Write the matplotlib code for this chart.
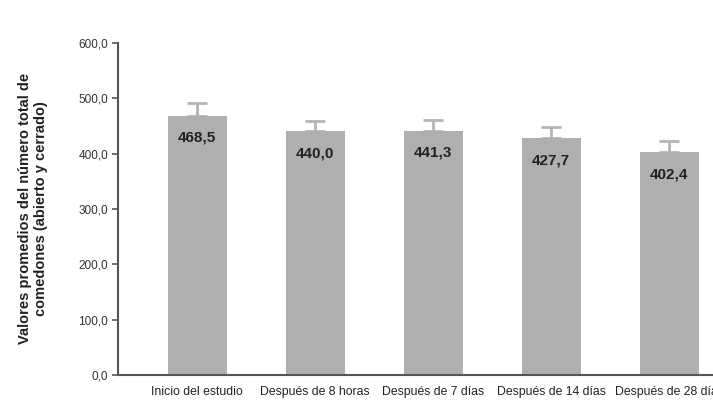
import numpy as np
import matplotlib.pyplot as plt

plt.rcParams['font.family'] = ['Liberation Sans', 'DejaVu Sans']

categorias = ["Inicio del estudio", "Después de 8 horas", "Después de 7 días",
              "Después de 14 días", "Después de 28 días"]
valores = [468.5, 440.0, 441.3, 427.7, 402.4]
errores = [23.0, 19.0, 19.5, 20.5, 19.5]
etiquetas = ["468,5", "440,0", "441,3", "427,7", "402,4"]
y_ticks = [0, 100, 200, 300, 400, 500, 600]


def main():
    fig = plt.figure(figsize=(7.13, 4.01), dpi=100)
    ax = fig.add_axes([0.1655, 0.065, 0.8345, 0.828])

    x = np.arange(len(categorias))
    ax.bar(x, valores, width=0.5, color="#afafaf", zorder=2)
    ax.errorbar(x, valores, yerr=[np.zeros(len(errores)), errores], fmt="none",
                ecolor="#b4b4b4", elinewidth=2, capsize=7, capthick=2, zorder=1)

    # etiquetas dentro de la barra
    for xi, v, t in zip(x, valores, etiquetas):
        ax.text(xi, v - 40, t, ha="center", va="center", fontsize=11,
                fontweight="bold", color="#222222", zorder=3)

    ax.set_xlim(-0.67, 4.37)
    ax.set_ylim(0, 600)
    ax.set_yticks(y_ticks)
    ax.set_yticklabels([f"{t:.1f}".replace(".", ",") for t in y_ticks], fontsize=8.5, color="#333333")
    ax.set_xticks(x)
    ax.set_xticklabels(categorias, fontsize=8.8, color="#222222")
    ax.tick_params(axis="x", length=0, pad=8)
    ax.tick_params(axis="y", length=4, width=1.2, color="#555555", pad=3)

    for s in ["top", "right"]:
        ax.spines[s].set_visible(False)
    for s in ["left", "bottom"]:
        ax.spines[s].set_color("#555555")
        ax.spines[s].set_linewidth(1.5)

    ax.set_ylabel("Valores promedios del número total de\ncomedones (abierto y cerrado)",
                  fontsize=10.5, fontweight="bold", color="#222222", labelpad=22)

    fig.savefig("out.png", dpi=100)


if __name__ == "__main__":
    main()
